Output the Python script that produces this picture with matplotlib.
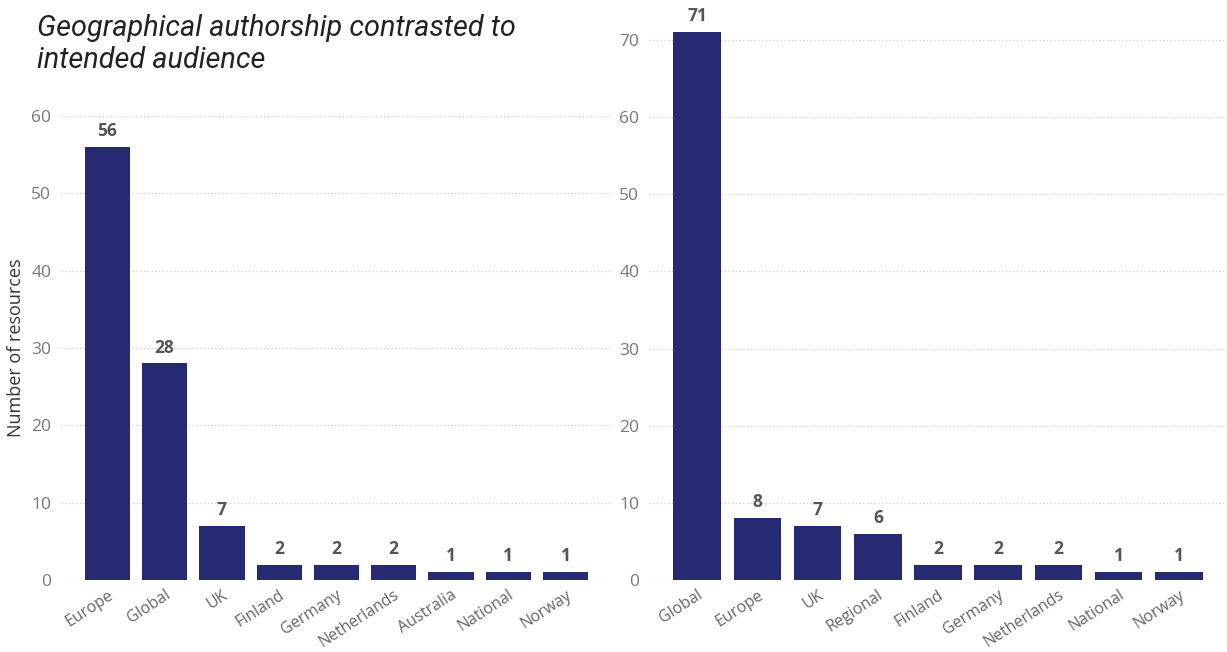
import matplotlib
matplotlib.use('Agg')
from matplotlib import pyplot as plt
from matplotlib.transforms import ScaledTranslation

# Authorship (left) vs intended audience (right)
author_regions = ['Europe', 'Global', 'UK', 'Finland', 'Germany', 'Netherlands',
                  'Australia', 'National', 'Norway']
author_counts = [56, 28, 7, 2, 2, 2, 1, 1, 1]

audience_regions = ['Global', 'Europe', 'UK', 'Regional', 'Finland', 'Germany',
                    'Netherlands', 'National', 'Norway']
audience_counts = [71, 8, 7, 6, 2, 2, 2, 1, 1]

BAR_COLOR = '#262a73'
plt.rcParams['font.family'] = ['Open Sans', 'DejaVu Sans']

fig = plt.figure(figsize=(12.27, 6.52), dpi=100)
ax1 = fig.add_axes([0.0497, 0.1104, 0.449, 0.7117])
ax2 = fig.add_axes([0.529, 0.1104, 0.471, 0.840])


def draw(ax, labels, counts, ymax, xpad):
    x = range(len(labels))
    ax.bar(x, counts, width=0.79, color=BAR_COLOR, zorder=3)
    for i, v in zip(x, counts):
        ax.annotate(str(v), (i, v), xytext=(0, 5), textcoords='offset points',
                    ha='center', va='bottom', fontsize=12.5, fontweight='bold',
                    color='#555555')
    ax.set_ylim(0, ymax)
    ax.set_xlim(-xpad, len(labels) - 1 + xpad)
    ax.set_yticks(range(0, int(ymax) + 1, 10))
    ax.set_xticks(list(x))
    ax.set_xticklabels(labels, rotation=33, ha='right', rotation_mode='anchor',
                       fontsize=11.5, color='#666666')
    shift = ScaledTranslation(-0.06, 0, fig.dpi_scale_trans)
    for lab in ax.get_xticklabels():
        lab.set_transform(lab.get_transform() + shift)
    ax.tick_params(axis='y', length=0, pad=7, labelsize=12.5, labelcolor='#777777')
    ax.tick_params(axis='x', length=0, pad=5)
    ax.grid(axis='y', linestyle=(0, (1, 2)), color='#c8c8c8', linewidth=0.9, zorder=0)
    for s in ax.spines.values():
        s.set_visible(False)


draw(ax1, author_regions, author_counts, 60, 0.81)
draw(ax2, audience_regions, audience_counts, 71, 0.80)

ax1.set_ylabel('Number of resources', fontsize=13, color='#333333')
ax1.yaxis.set_label_coords(-0.066, 0.5)

fig.text(0.030, 0.978, 'Geographical authorship contrasted to\nintended audience',
         ha='left', va='top', fontsize=20.8, style='italic', color='#222222',
         family=['Roboto', 'DejaVu Sans'], linespacing=1.15)

fig.savefig('out.png', dpi=100)
